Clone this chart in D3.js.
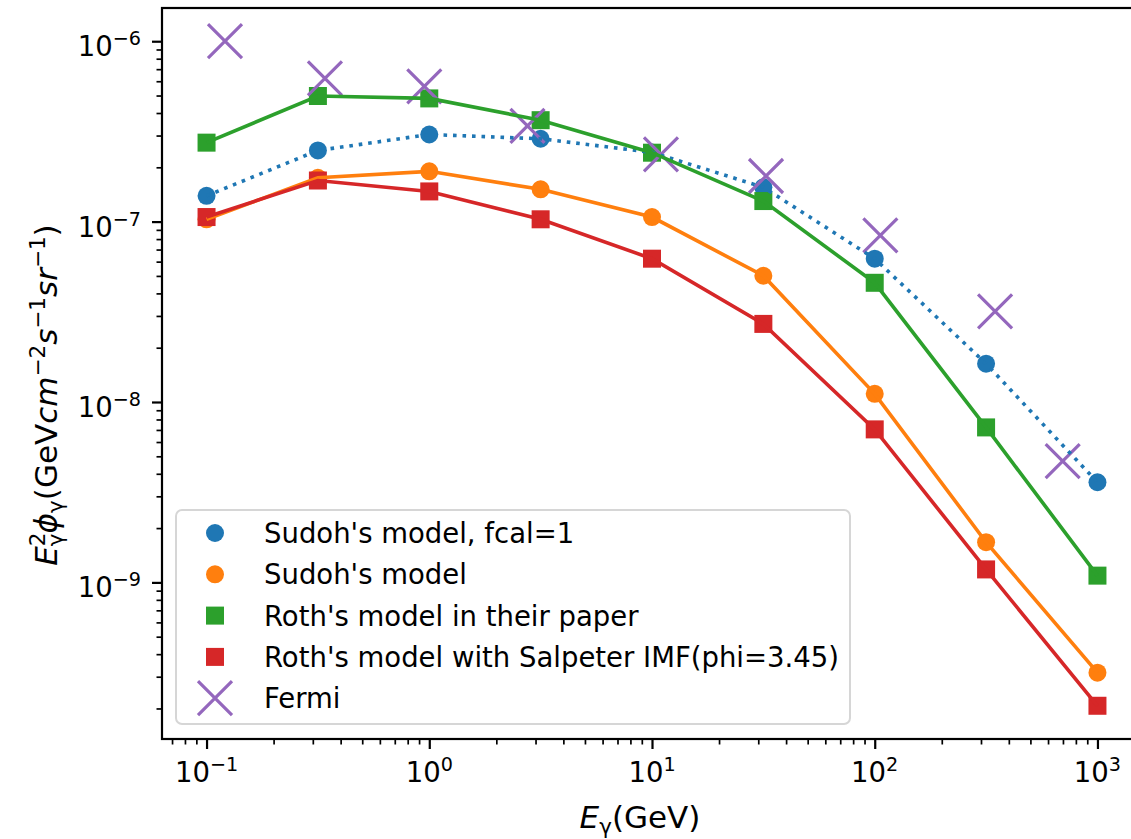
<!DOCTYPE html>
<html>
<head>
<meta charset="utf-8">
<script src="https://cdn.jsdelivr.net/npm/d3@7"></script>
<style>
  body { margin: 0; background: #fff; }
  text { font-family: "DejaVu Sans", sans-serif; fill: #000; }
</style>
</head>
<body>
<div id="container"></div>
<script>
/* DATA */
const energies = [0.1, 0.3162, 1, 3.162, 10, 31.62, 100, 316.2, 1000]
const sudohFcal1 = [1.39e-7, 2.48e-7, 3.04e-7, 2.88e-7, 2.42e-7, 1.55e-7, 6.23e-8, 1.63e-8, 3.59e-9]
const sudoh = [1.03e-7, 1.75e-7, 1.90e-7, 1.51e-7, 1.06e-7, 5.01e-8, 1.11e-8, 1.67e-9, 3.16e-10]
const rothPaper = [2.74e-7, 4.97e-7, 4.82e-7, 3.65e-7, 2.41e-7, 1.30e-7, 4.58e-8, 7.23e-9, 1.09e-9]
const rothSalpeter = [1.06e-7, 1.69e-7, 1.47e-7, 1.03e-7, 6.23e-8, 2.71e-8, 7.05e-9, 1.18e-9, 2.07e-10]
const fermiE = [0.121, 0.340, 0.95, 2.76, 10.97, 32.5, 106, 347, 698]
const fermiFlux = [1.0e-6, 6.23e-7, 5.62e-7, 3.39e-7, 2.36e-7, 1.79e-7, 8.39e-8, 3.18e-8, 4.70e-9]

const xMajor = [1e-1, 1e0, 1e1, 1e2, 1e3]
const xMajorExp = ["−1", "0", "1", "2", "3"]
const yMajor = [1e-9, 1e-8, 1e-7, 1e-6]
const yMajorExp = ["−9", "−8", "−7", "−6"]

const legendLabels = ["Sudoh's model, fcal=1", "Sudoh's model", "Roth's model in their paper",
  "Roth's model with Salpeter IMF(phi=3.45)", "Fermi"]

/* CONSTANTS */
const width = 1131, height = 839
const margin = { top: 8, left: 162, bottom: 100, right: -11 }  // plot runs past the right edge
const colors = { blue: "#1f77b4", orange: "#ff7f0e", green: "#2ca02c", red: "#d62728", purple: "#9467bd" }
const fs = 27.5, fsSmall = 19.2
const fsLabel = 31, fsLabelSmall = 21.5

// matplotlib-style 5% padding in log space
const logPad = (vals) => {
  const [lo, hi] = d3.extent(vals, v => Math.log10(v))
  const p = (hi - lo) * 0.05
  return [Math.pow(10, lo - p), Math.pow(10, hi + p)]
}

const xScale = d3.scaleLog()
  .domain(logPad(energies.concat(fermiE)))
  .range([margin.left, width - margin.right])

const yScale = d3.scaleLog()
  .domain(logPad(sudohFcal1.concat(sudoh, rothPaper, rothSalpeter, fermiFlux)))
  .range([height - margin.bottom, margin.top])

const minorTicks = (scale) => {
  const [a, b] = scale.domain()
  const out = []
  for (let e = Math.floor(Math.log10(a)); e <= Math.ceil(Math.log10(b)); e++) {
    for (let k = 2; k <= 9; k++) {
      const v = k * Math.pow(10, e)
      if (v >= a && v <= b) out.push(v)
    }
  }
  return out
}

const svg = d3.select("#container")
  .append("svg")
  .attr("width", width)
  .attr("height", height)

svg.append("defs").append("clipPath").attr("id", "plotclip")
  .append("rect")
  .attr("x", margin.left).attr("y", margin.top)
  .attr("width", width - margin.right - margin.left)
  .attr("height", height - margin.bottom - margin.top)

const plot = svg.append("g").attr("clip-path", "url(#plotclip)")

// marker helpers
const drawMarker = (g, shape, color, cx, cy) => {
  if (shape === "circle") {
    g.append("circle").attr("cx", cx).attr("cy", cy).attr("r", 9).attr("fill", color)
  } else if (shape === "square") {
    g.append("rect").attr("x", cx - 9).attr("y", cy - 9).attr("width", 18).attr("height", 18).attr("fill", color)
  } else {
    const s = 17
    g.append("path")
      .attr("d", `M${cx - s},${cy - s}L${cx + s},${cy + s}M${cx - s},${cy + s}L${cx + s},${cy - s}`)
      .attr("stroke", color).attr("stroke-width", 3.2).attr("fill", "none")
  }
}

const series = [
  { name: legendLabels[0], xs: energies, ys: sudohFcal1, color: colors.blue, shape: "circle", dash: "3.6,5.9" },
  { name: legendLabels[1], xs: energies, ys: sudoh, color: colors.orange, shape: "circle", dash: null },
  { name: legendLabels[2], xs: energies, ys: rothPaper, color: colors.green, shape: "square", dash: null },
  { name: legendLabels[3], xs: energies, ys: rothSalpeter, color: colors.red, shape: "square", dash: null },
  { name: legendLabels[4], xs: fermiE, ys: fermiFlux, color: colors.purple, shape: "x", dash: null, noLine: true }
]

// scatter markers first (zorder 1)
series.forEach(s => {
  const g = plot.append("g")
  s.xs.forEach((x, i) => drawMarker(g, s.shape, s.color, xScale(x), yScale(s.ys[i])))
})

// lines on top (zorder 2)
const lineGen = d3.line().x(d => xScale(d[0])).y(d => yScale(d[1]))
series.filter(s => !s.noLine).forEach(s => {
  plot.append("path")
    .datum(s.xs.map((x, i) => [x, s.ys[i]]))
    .attr("d", lineGen)
    .attr("fill", "none")
    .attr("stroke", s.color)
    .attr("stroke-width", 3.6)
    .attr("stroke-dasharray", s.dash)
})

// AXES
const xAxisMajor = d3.axisBottom(xScale).tickValues(xMajor).tickSize(10).tickFormat("")
const xAxisMinor = d3.axisBottom(xScale).tickValues(minorTicks(xScale)).tickSize(5.5).tickFormat("")
const yAxisMajor = d3.axisLeft(yScale).tickValues(yMajor).tickSize(10).tickFormat("")
const yAxisMinor = d3.axisLeft(yScale).tickValues(minorTicks(yScale)).tickSize(5.5).tickFormat("")

const bottomY = height - margin.bottom
;[[xAxisMajor, 2.2], [xAxisMinor, 1.7]].forEach(([ax, w]) => {
  svg.append("g").attr("transform", `translate(0,${bottomY})`).call(ax)
    .selectAll(".tick line").attr("stroke", "#000").attr("stroke-width", w)
})
;[[yAxisMajor, 2.2], [yAxisMinor, 1.7]].forEach(([ax, w]) => {
  svg.append("g").attr("transform", `translate(${margin.left},0)`).call(ax)
    .selectAll(".tick line").attr("stroke", "#000").attr("stroke-width", w)
})
svg.selectAll(".domain").remove()

// spines
svg.append("rect")
  .attr("x", margin.left).attr("y", margin.top)
  .attr("width", width - margin.right - margin.left)
  .attr("height", bottomY - margin.top)
  .attr("fill", "none").attr("stroke", "#000").attr("stroke-width", 2.2)

// tick labels 10^n
xMajor.forEach((v, i) => {
  const t = svg.append("text")
    .attr("x", xScale(v)).attr("y", 782)
    .attr("text-anchor", "middle")
    .style("font-size", fs + "px")
  t.append("tspan").text("10")
  t.append("tspan").attr("dy", -11).style("font-size", fsSmall + "px").text(xMajorExp[i])
})
yMajor.forEach((v, i) => {
  const t = svg.append("text")
    .attr("x", 141).attr("y", yScale(v) + 15)
    .attr("text-anchor", "end")
    .style("font-size", fs + "px")
  t.append("tspan").text("10")
  t.append("tspan").attr("dy", -11).style("font-size", fsSmall + "px").text(yMajorExp[i])
})

// AXIS TITLES
const xl = svg.append("text")
  .attr("x", 640).attr("y", 828)
  .attr("text-anchor", "middle")
  .style("font-size", fsLabel + "px")
xl.append("tspan").style("font-style", "italic").text("E")
xl.append("tspan").attr("dy", 6).style("font-size", fsLabelSmall + "px").text("γ")
xl.append("tspan").attr("dy", -6).text("(GeV)")

const yl = svg.append("text")
  .attr("transform", `translate(57,395) rotate(-90)`)
  .attr("text-anchor", "middle")
  .style("font-size", fsLabel + "px")
yl.append("tspan").style("font-style", "italic").text("E")
yl.append("tspan").attr("dy", -12).style("font-size", fsLabelSmall + "px").text("2")
yl.append("tspan").attr("dx", -13.7).attr("dy", 18).style("font-size", fsLabelSmall + "px").text("γ")
yl.append("tspan").attr("dy", -6).style("font-style", "italic").text("ϕ")
yl.append("tspan").attr("dy", 6).style("font-size", fsLabelSmall + "px").text("γ")
yl.append("tspan").attr("dy", -6).text("(GeV")
yl.append("tspan").style("font-style", "italic").text("cm")
yl.append("tspan").attr("dy", -12).style("font-size", fsLabelSmall + "px").text("−2")
yl.append("tspan").attr("dy", 12).style("font-style", "italic").text("s")
yl.append("tspan").attr("dy", -12).style("font-size", fsLabelSmall + "px").text("−1")
yl.append("tspan").attr("dy", 12).style("font-style", "italic").text("sr")
yl.append("tspan").attr("dy", -12).style("font-size", fsLabelSmall + "px").text("−1")
yl.append("tspan").attr("dy", 12).text(")")

// LEGEND
const legend = svg.append("g")
legend.append("rect")
  .attr("x", 176).attr("y", 510)
  .attr("width", 674).attr("height", 214)
  .attr("rx", 6)
  .attr("fill", "#fff").attr("fill-opacity", 0.8)
  .attr("stroke", "#d6d6d6").attr("stroke-width", 2)

series.forEach((s, i) => {
  const cy = 533 + i * 41.3
  drawMarker(legend, s.shape, s.color, 215, cy)
  legend.append("text")
    .attr("x", 264).attr("y", cy + 10)
    .style("font-size", fs + "px")
    .text(s.name)
})
</script>
</body>
</html>
